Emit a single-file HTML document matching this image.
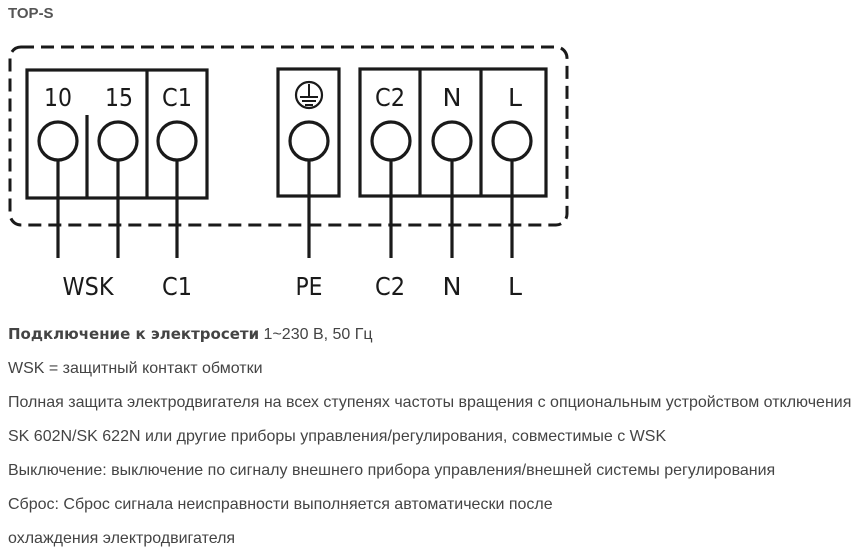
<!DOCTYPE html>
<html><head><meta charset="utf-8"><style>
html,body{margin:0;padding:0;background:#fff;width:859px;height:550px;overflow:hidden}
.t{position:absolute;left:8px;font-family:"Liberation Sans",Arial,sans-serif;font-size:16px;color:#444;white-space:nowrap}
</style></head><body>
<div style="position:absolute;left:8px;top:5px;font-family:'Liberation Sans',Arial,sans-serif;font-weight:bold;font-size:15px;color:#555">TOP-S</div>
<svg width="859" height="310" style="position:absolute;left:0;top:0" font-family="DejaVu Sans, sans-serif">
<g fill="none" stroke="#1a1a1a">
<rect x="10" y="47" width="557" height="178" rx="11" stroke-width="3" stroke-dasharray="13,7"/>
<g stroke-width="3.2">
<rect x="27" y="70" width="180" height="128"/>
<line x1="147" y1="70" x2="147" y2="198"/>
<line x1="87" y1="115" x2="87" y2="198"/>
<rect x="278" y="69" width="61" height="127"/>
<rect x="360" y="69" width="186" height="127"/>
<line x1="420" y1="69" x2="420" y2="196"/>
<line x1="481" y1="69" x2="481" y2="196"/>
<circle cx="58" cy="141" r="19"/><circle cx="118" cy="141" r="19"/><circle cx="177" cy="141" r="19"/>
<circle cx="309" cy="141" r="19"/>
<circle cx="391" cy="141" r="19"/><circle cx="452" cy="141" r="19"/><circle cx="512" cy="141" r="19"/>
<line x1="58" y1="160" x2="58" y2="258"/><line x1="118" y1="160" x2="118" y2="258"/><line x1="177" y1="160" x2="177" y2="258"/>
<line x1="309" y1="160" x2="309" y2="258"/>
<line x1="391" y1="160" x2="391" y2="258"/><line x1="452" y1="160" x2="452" y2="258"/><line x1="512" y1="160" x2="512" y2="258"/>
</g>
<circle cx="309" cy="95" r="13" stroke-width="2.2"/>
<line x1="309" y1="84" x2="309" y2="97" stroke-width="2"/>
<line x1="300" y1="97" x2="318" y2="97" stroke-width="2"/>
<line x1="302" y1="101" x2="316" y2="101" stroke-width="2"/>
<line x1="305" y1="105" x2="313" y2="105" stroke-width="2"/>
</g>
<g fill="#1a1a1a" font-size="25" text-anchor="middle">
<text x="58" y="106" textLength="28" lengthAdjust="spacingAndGlyphs">10</text>
<text x="119" y="106" textLength="28" lengthAdjust="spacingAndGlyphs">15</text>
<text x="177" y="106" textLength="30" lengthAdjust="spacingAndGlyphs">C1</text>
<text x="390" y="106" textLength="30" lengthAdjust="spacingAndGlyphs">C2</text>
<text x="452" y="106" textLength="19" lengthAdjust="spacingAndGlyphs">N</text>
<text x="515" y="106" textLength="14" lengthAdjust="spacingAndGlyphs">L</text>
<text x="88" y="295" textLength="51" lengthAdjust="spacingAndGlyphs">WSK</text>
<text x="177" y="295" textLength="30" lengthAdjust="spacingAndGlyphs">C1</text>
<text x="309" y="295" textLength="27" lengthAdjust="spacingAndGlyphs">PE</text>
<text x="390" y="295" textLength="30" lengthAdjust="spacingAndGlyphs">C2</text>
<text x="452" y="295" textLength="19" lengthAdjust="spacingAndGlyphs">N</text>
<text x="515" y="295" textLength="14" lengthAdjust="spacingAndGlyphs">L</text>
</g>
</svg>
<div class="t" style="top:325px"><b style="font-family:'DejaVu Sans',sans-serif;font-size:15px">Подключение к электросети</b> 1~230 В, 50 Гц</div>
<div class="t" style="top:360px">WSK = защитный контакт обмотки</div>
<div class="t" style="top:394px">Полная защита электродвигателя на всех ступенях частоты вращения с опциональным устройством отключения</div>
<div class="t" style="top:428px">SK 602N/SK 622N или другие приборы управления/регулирования, совместимые с WSK</div>
<div class="t" style="top:462px">Выключение: выключение по сигналу внешнего прибора управления/внешней системы регулирования</div>
<div class="t" style="top:496px">Сброс: Сброс сигнала неисправности выполняется автоматически после</div>
<div class="t" style="top:530px">охлаждения электродвигателя</div>
</body></html>
